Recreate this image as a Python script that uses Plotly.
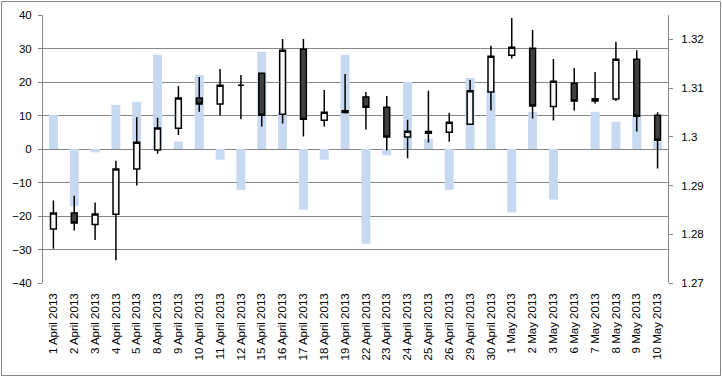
import plotly.graph_objects as go

dates = ["1 April 2013", "2 April 2013", "3 April 2013", "4 April 2013", "5 April 2013",
         "8 April 2013", "9 April 2013", "10 April 2013", "11 April 2013", "12 April 2013",
         "15 April 2013", "16 April 2013", "17 April 2013", "18 April 2013", "19 April 2013",
         "22 April 2013", "23 April 2013", "24 April 2013", "25 April 2013", "26 April 2013",
         "29 April 2013", "30 April 2013", "1 May 2013", "2 May 2013", "3 May 2013",
         "6 May 2013", "7 May 2013", "8 May 2013", "9 May 2013", "10 May 2013"]

bar_values = [10.2, -17.1, -1.0, 13.2, 14.1, 28.1, 2.2, 22.1, -3.2, -12.2,
              29.0, 11.0, -18.1, -3.2, 28.1, -28.3, -1.9, 20.0, 3.0, -12.2,
              21.2, 17.5, -18.9, 11.1, -15.1, 0.0, 11.1, 8.1, 10.0, 2.2]

open_ = [1.28107, 1.28437, 1.28203, 1.28409, 1.29338, 1.29729, 1.30176, 1.30795, 1.30671, 1.31060,
         1.31304, 1.30465, 1.31799, 1.30341, 1.30534, 1.30816, 1.30609, 1.29994, 1.30108, 1.30094,
         1.30259, 1.30919, 1.31675, 1.31819, 1.30623, 1.31101, 1.30733, 1.30774, 1.31593, 1.30444]
high = [1.28691, 1.28791, 1.28650, 1.29509, 1.30403, 1.30389, 1.31043, 1.31228, 1.31393, 1.31269,
        1.31304, 1.32005, 1.32005, 1.30963, 1.31290, 1.30922, 1.30836, 1.30348, 1.30943, 1.30493,
        1.31166, 1.31868, 1.32438, 1.32191, 1.31599, 1.31414, 1.31331, 1.31950, 1.31778, 1.30506]
low = [1.27701, 1.28079, 1.27880, 1.27468, 1.29001, 1.29654, 1.30039, 1.30513, 1.30438, 1.30362,
       1.30211, 1.30273, 1.30004, 1.30211, 1.30479, 1.30149, 1.29719, 1.29558, 1.29881, 1.29901,
       1.30252, 1.30541, 1.31606, 1.30376, 1.30334, 1.30541, 1.30685, 1.30733, 1.30108, 1.29351]
close = [1.28437, 1.28231, 1.28416, 1.29338, 1.29891, 1.30183, 1.30795, 1.30671, 1.31060, 1.31060,
         1.30444, 1.31778, 1.30362, 1.30506, 1.30499, 1.30609, 1.29994, 1.30114, 1.30073, 1.30300,
         1.30943, 1.31654, 1.31840, 1.30630, 1.31139, 1.30733, 1.30781, 1.31593, 1.30424, 1.29932]

left_ticks = [-40, -30, -20, -10, 0, 10, 20, 30, 40]
right_ticks = [1.27, 1.28, 1.29, 1.30, 1.31, 1.32]

GRID = "#868686"
FONT = dict(family="Liberation Sans", size=11.5, color="#000000")

fig = go.Figure()
fig.add_trace(go.Bar(x=dates, y=bar_values, marker=dict(color="#C6D9F1", line=dict(width=0)),
                     xaxis="x", yaxis="y", hoverinfo="skip"))
fig.add_trace(go.Candlestick(
    x=dates, open=open_, high=high, low=low, close=close, xaxis="x", yaxis="y2",
    increasing=dict(line=dict(color="#000000", width=1.5), fillcolor="#F8F8F8"),
    decreasing=dict(line=dict(color="#000000", width=1.5), fillcolor="#404040"),
    whiskerwidth=0, hoverinfo="skip"))

n = len(dates)
fig.update_layout(
    width=722, height=377,
    margin=dict(l=43, r=54, t=15, b=94, autoexpand=False),
    paper_bgcolor="white", plot_bgcolor="white",
    showlegend=False, hovermode=False,
    bargap=0.57, boxgap=0.6,
    font=FONT,
    xaxis=dict(type="category", categoryorder="array", categoryarray=dates,
               range=[-0.5, n - 0.5], rangeslider=dict(visible=False), automargin=False,
               showgrid=False, zeroline=False, showline=False, ticks="",
               tickangle=-90, tickfont=FONT, ticklabelstandoff=7),
    xaxis2=dict(overlaying="x", anchor="free", position=0.5, range=[-0.5, n - 0.5],
                tickmode="array", tickvals=[i - 0.5 for i in range(n + 1)], automargin=False,
                ticks="outside", ticklen=4, tickcolor=GRID, showticklabels=False,
                showline=True, linecolor=GRID, linewidth=1, showgrid=False, zeroline=False),
    yaxis=dict(range=[-40, 40], tickmode="array", tickvals=left_ticks, automargin=False,
               showgrid=True, gridcolor=GRID, gridwidth=1, zeroline=False,
               showline=True, linecolor=GRID, ticks="outside", ticklen=4, tickcolor=GRID,
               tickfont=FONT, ticklabelstandoff=4),
    yaxis2=dict(overlaying="y", side="right", range=[1.27, 1.325], tickmode="array",
                tickvals=right_ticks, ticktext=[f"{v:g}" for v in right_ticks], automargin=False,
                showgrid=False, zeroline=False, showline=True, linecolor=GRID,
                ticks="outside", ticklen=4, tickcolor=GRID, tickfont=FONT,
                ticklabelstandoff=6),
    shapes=[dict(type="rect", xref="paper", yref="paper",
                 x0=(1.5 - 43) / 625, x1=(720.5 - 43) / 625,
                 y0=(283 - 375.5) / 268, y1=(283 - 1.5) / 268,
                 line=dict(color=GRID, width=1), fillcolor="rgba(0,0,0,0)", layer="below")],
)

fig.write_html("out.html", config={"displayModeBar": False, "staticPlot": True},
               post_script="document.body.style.margin='0';document.body.style.overflow='hidden';")
